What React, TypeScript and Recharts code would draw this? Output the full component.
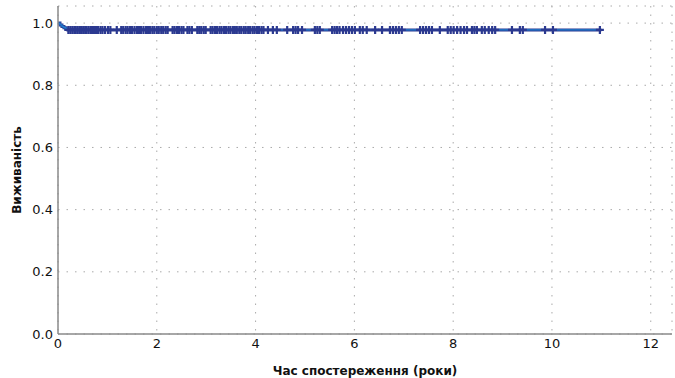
import React from "react";
import {
  ComposedChart, Line, Scatter, XAxis, YAxis, CartesianGrid,
} from "recharts";

// survival curve (Kaplan–Meier), steps
const SURV_TIMES = [0, 0.04, 0.08, 0.12, 0.16, 0.2, 11];
const SURV_VALUES = [1.0, 0.994, 0.989, 0.985, 0.981, 0.978, 0.978];

// censored observations (years)
const CENSOR_TIMES = [
  0.21, 0.25, 0.29, 0.33, 0.36, 0.4, 0.44, 0.47, 0.51, 0.55, 0.58, 0.62, 0.66, 0.69,
  0.73, 0.77, 0.81, 0.86, 0.9, 0.95, 1.01, 1.06,
  1.19, 1.28, 1.32, 1.37, 1.41, 1.46, 1.5, 1.55, 1.6, 1.64, 1.68, 1.73, 1.78, 1.82, 1.86,
  1.91, 1.95, 2.0, 2.04, 2.09, 2.13, 2.18, 2.22, 2.32, 2.36, 2.41, 2.45, 2.5, 2.54,
  2.62, 2.66, 2.71, 2.82, 2.86, 2.9, 2.95, 2.99, 3.09, 3.13, 3.18, 3.22, 3.27, 3.31,
  3.36, 3.4, 3.45, 3.49, 3.54, 3.58, 3.62, 3.67, 3.71, 3.76, 3.8, 3.85, 3.89, 3.94,
  3.98, 4.03, 4.07, 4.12, 4.16,
  4.25, 4.35, 4.43, 4.64, 4.76, 4.81, 4.86, 4.94, 5.2, 5.25, 5.3, 5.55, 5.6, 5.65,
  5.7, 5.77, 5.83, 5.89, 5.95, 6.01, 6.11, 6.17, 6.25, 6.42, 6.56, 6.72, 6.78, 6.84,
  6.9, 6.96, 7.33, 7.39, 7.45, 7.51, 7.57, 7.73, 7.89, 7.95, 8.01, 8.08, 8.15, 8.22,
  8.28, 8.38, 8.43, 8.48, 8.58, 8.64, 8.72, 8.79, 8.85, 9.19, 9.35, 9.41, 9.86,
  10.02, 10.97,
];
const CENSOR_SURV = 0.978;

const X_TICKS = [0, 2, 4, 6, 8, 10, 12];
const Y_TICKS = [0, 0.2, 0.4, 0.6, 0.8, 1.0];

const NAVY = "#2b3990";
const BLUE = "#1f7fd0";
const FONT = "'DejaVu Sans', Verdana, sans-serif";

const curve = SURV_TIMES.map((t, i) => ({ t, s: SURV_VALUES[i] }));
const censored = CENSOR_TIMES.map((t) => ({ t, s: CENSOR_SURV }));

const Plus = (props: any) => {
  const { cx, cy } = props;
  if (cx == null || cy == null) return null;
  const r = 4;
  return (
    <path
      d={`M${cx - r},${cy}H${cx + r}M${cx},${cy - r}V${cy + r}`}
      stroke={NAVY}
      strokeWidth={2.2}
      fill="none"
    />
  );
};

const YLabel = () => (
  <text
    x={17}
    y={170}
    transform="rotate(-90, 17, 170)"
    textAnchor="middle"
    dominantBaseline="central"
    fontFamily={FONT}
    fontSize={12}
    fontWeight="bold"
    fill="#111"
  >
    Виживаність
  </text>
);

export default function App() {
  const tick = { fill: "#111", fontSize: 13, fontFamily: FONT };
  return (
    <div style={{ position: "absolute", left: 0, top: 0, background: "#fff" }}>
      <ComposedChart
        width={675}
        height={378}
        margin={{ top: 6, right: 3, bottom: 0, left: 0 }}
      >
        <CartesianGrid stroke="#aaa" strokeDasharray="1.5 7" />
        <XAxis
          type="number"
          dataKey="t"
          domain={[0, 12.43]}
          ticks={X_TICKS}
          allowDataOverflow
          height={44}
          tickLine={false}
          tickSize={0}
          tickMargin={5}
          axisLine={{ stroke: "#8a8a8a", strokeWidth: 1.5 }}
          tick={tick}
          label={{
            value: "Час спостереження (роки)",
            position: "insideBottom",
            offset: 3,
            style: { fontFamily: FONT, fontSize: 12, fontWeight: "bold", fill: "#111" },
          }}
        />
        <YAxis
          type="number"
          dataKey="s"
          domain={[0, 1.055]}
          ticks={Y_TICKS}
          allowDataOverflow
          width={58}
          tickLine={false}
          tickSize={0}
          tickMargin={5}
          axisLine={{ stroke: "#8a8a8a", strokeWidth: 1.5 }}
          tick={tick}
          tickFormatter={(v: number) => v.toFixed(1)}
          label={<YLabel />}
        />
        <Line
          data={curve}
          dataKey="s"
          type="stepAfter"
          stroke={NAVY}
          strokeWidth={3}
          dot={false}
          activeDot={false}
          isAnimationActive={false}
        />
        <Line
          data={curve}
          dataKey="s"
          type="stepAfter"
          stroke={BLUE}
          strokeWidth={1.3}
          dot={false}
          activeDot={false}
          isAnimationActive={false}
        />
        <Scatter
          data={censored}
          dataKey="s"
          shape={<Plus />}
          isAnimationActive={false}
        />
      </ComposedChart>
    </div>
  );
}
